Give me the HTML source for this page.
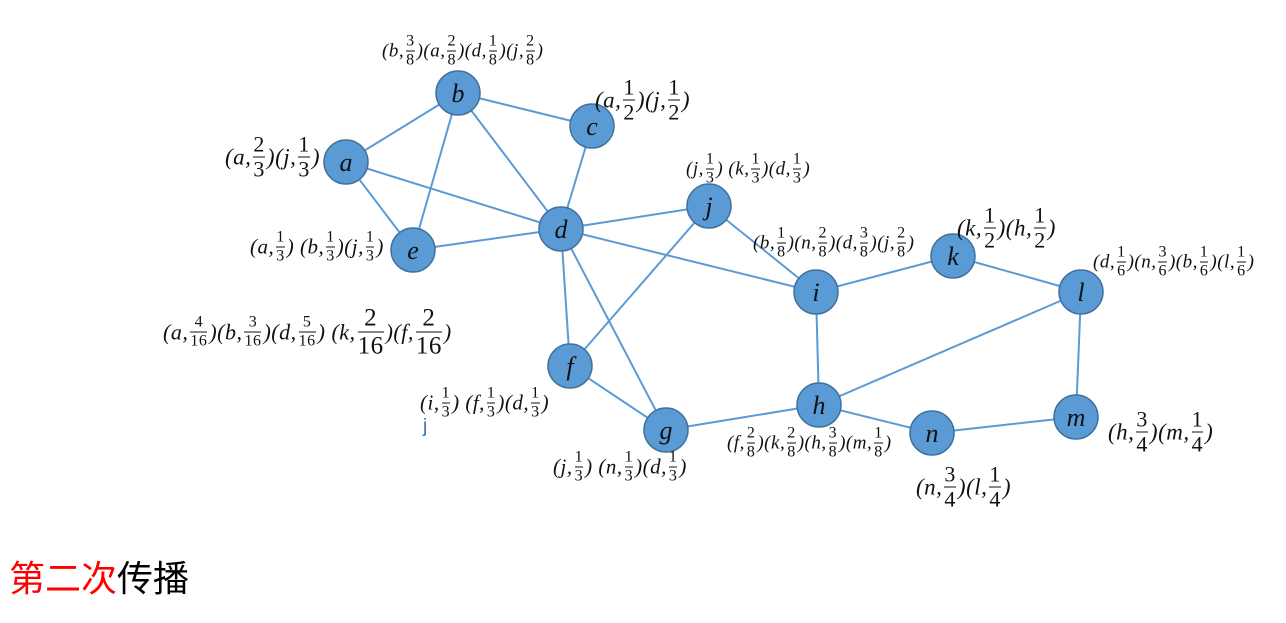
<!DOCTYPE html>
<html><head><meta charset="utf-8"><style>
body{margin:0;width:1286px;height:623px;background:#fff;position:relative;overflow:hidden;font-family:"Liberation Serif",serif}
.l{position:absolute;white-space:nowrap;font-style:italic;color:#111;display:flex;align-items:center;transform:translateY(-50%)}
.fr{display:inline-flex;flex-direction:column;align-items:center;font-style:normal;margin:0 2px;line-height:1;}
.fr span:last-child{border-top:1.5px solid #111;padding-top:1px}
.fr span:first-child{padding-bottom:1px}
.s{font-size:19px;letter-spacing:0.5px}.s .fr{font-size:16px}
.m{font-size:23px;letter-spacing:0.5px}.m .fr{font-size:22px}
</style></head><body>
<svg width="1286" height="623" style="position:absolute;left:0;top:0">
<g stroke="#5b9bd5" stroke-width="2">
<line x1="346" y1="162" x2="458" y2="93"/><line x1="346" y1="162" x2="413" y2="250"/>
<line x1="346" y1="162" x2="561" y2="229"/><line x1="458" y1="93" x2="413" y2="250"/>
<line x1="458" y1="93" x2="561" y2="229"/><line x1="458" y1="93" x2="592" y2="126"/>
<line x1="592" y1="126" x2="561" y2="229"/><line x1="561" y1="229" x2="413" y2="250"/>
<line x1="561" y1="229" x2="709" y2="206"/><line x1="561" y1="229" x2="816" y2="292"/>
<line x1="561" y1="229" x2="570" y2="366"/><line x1="561" y1="229" x2="666" y2="430"/>
<line x1="709" y1="206" x2="816" y2="292"/><line x1="709" y1="206" x2="570" y2="366"/>
<line x1="570" y1="366" x2="666" y2="430"/><line x1="666" y1="430" x2="819" y2="405"/>
<line x1="816" y1="292" x2="953" y2="256"/><line x1="816" y1="292" x2="819" y2="405"/>
<line x1="953" y1="256" x2="1081" y2="292"/><line x1="819" y1="405" x2="1081" y2="292"/>
<line x1="819" y1="405" x2="932" y2="433"/><line x1="932" y1="433" x2="1076" y2="417"/>
<line x1="1076" y1="417" x2="1081" y2="292"/>
</g>
<g fill="#5b9bd5" stroke="#41719c" stroke-width="1.5">
<circle cx="346" cy="162" r="22"/><circle cx="458" cy="93" r="22"/><circle cx="592" cy="126" r="22"/>
<circle cx="561" cy="229" r="22"/><circle cx="413" cy="250" r="22"/><circle cx="709" cy="206" r="22"/>
<circle cx="816" cy="292" r="22"/><circle cx="953" cy="256" r="22"/><circle cx="1081" cy="292" r="22"/>
<circle cx="570" cy="366" r="22"/><circle cx="666" cy="430" r="22"/><circle cx="819" cy="405" r="22"/>
<circle cx="932" cy="433" r="22"/><circle cx="1076" cy="417" r="22"/>
</g>
<g font-family="Liberation Serif,serif" font-style="italic" font-size="26" fill="#111" text-anchor="middle">
<text x="346" y="171">a</text><text x="458" y="102">b</text><text x="592" y="135">c</text>
<text x="561" y="238">d</text><text x="413" y="259">e</text><text x="709" y="215">j</text>
<text x="816" y="301">i</text><text x="953" y="265">k</text><text x="1081" y="301">l</text>
<text x="570" y="375">f</text><text x="666" y="439">g</text><text x="819" y="414">h</text>
<text x="932" y="442">n</text><text x="1076" y="426">m</text>
</g>
</svg>
<div class="l s" style="left:382px;top:51px">(b,<span class="fr"><span>3</span><span>8</span></span>)(a,<span class="fr"><span>2</span><span>8</span></span>)(d,<span class="fr"><span>1</span><span>8</span></span>)(j,<span class="fr"><span>2</span><span>8</span></span>)</div>
<div class="l m" style="left:595px;top:100px">(a,<span class="fr"><span>1</span><span>2</span></span>)(j,<span class="fr"><span>1</span><span>2</span></span>)</div>
<div class="l m" style="left:225px;top:157px">(a,<span class="fr"><span>2</span><span>3</span></span>)(j,<span class="fr"><span>1</span><span>3</span></span>)</div>
<div class="l s" style="left:686px;top:169px">(j,<span class="fr"><span>1</span><span>3</span></span>) (k,<span class="fr"><span>1</span><span>3</span></span>)(d,<span class="fr"><span>1</span><span>3</span></span>)</div>
<div class="l s" style="left:250px;top:247px;font-size:21px">(a,<span class="fr"><span>1</span><span>3</span></span>) (b,<span class="fr"><span>1</span><span>3</span></span>)(j,<span class="fr"><span>1</span><span>3</span></span>)</div>
<div class="l s" style="left:163px;top:332px;font-size:22px">(a,<span class="fr"><span>4</span><span>16</span></span>)(b,<span class="fr"><span>3</span><span>16</span></span>)(d,<span class="fr"><span>5</span><span>16</span></span>) (k,<span class="fr" style="font-size:25px"><span>2</span><span>16</span></span>)(f,<span class="fr" style="font-size:25px"><span>2</span><span>16</span></span>)</div>
<div class="l s" style="left:753px;top:243px">(b,<span class="fr"><span>1</span><span>8</span></span>)(n,<span class="fr"><span>2</span><span>8</span></span>)(d,<span class="fr"><span>3</span><span>8</span></span>)(j,<span class="fr"><span>2</span><span>8</span></span>)</div>
<div class="l m" style="left:957px;top:228px">(k,<span class="fr"><span>1</span><span>2</span></span>)(h,<span class="fr"><span>1</span><span>2</span></span>)</div>
<div class="l s" style="left:1093px;top:262px">(d,<span class="fr"><span>1</span><span>6</span></span>)(n,<span class="fr"><span>3</span><span>6</span></span>)(b,<span class="fr"><span>1</span><span>6</span></span>)(l,<span class="fr"><span>1</span><span>6</span></span>)</div>
<div class="l s" style="left:420px;top:403px;font-size:21px">(i,<span class="fr"><span>1</span><span>3</span></span>) (f,<span class="fr"><span>1</span><span>3</span></span>)(d,<span class="fr"><span>1</span><span>3</span></span>)</div>
<div style="position:absolute;left:423px;top:416px;font-family:'Liberation Sans',sans-serif;font-size:19px;color:#2e75b6">j</div>
<div class="l s" style="left:553px;top:467px;font-size:21px">(j,<span class="fr"><span>1</span><span>3</span></span>) (n,<span class="fr"><span>1</span><span>3</span></span>)(d,<span class="fr"><span>1</span><span>3</span></span>)</div>
<div class="l s" style="left:727px;top:443px">(f,<span class="fr"><span>2</span><span>8</span></span>)(k,<span class="fr"><span>2</span><span>8</span></span>)(h,<span class="fr"><span>3</span><span>8</span></span>)(m,<span class="fr"><span>1</span><span>8</span></span>)</div>
<div class="l m" style="left:1108px;top:432px">(h,<span class="fr"><span>3</span><span>4</span></span>)(m,<span class="fr"><span>1</span><span>4</span></span>)</div>
<div class="l m" style="left:916px;top:487px">(n,<span class="fr"><span>3</span><span>4</span></span>)(l,<span class="fr"><span>1</span><span>4</span></span>)</div>
<div style="position:absolute;left:9px;top:558px;font-family:'Liberation Sans','Noto Sans CJK SC',sans-serif;font-size:36px;line-height:42px"><span style="color:#f00">第二次</span><span style="color:#000">传播</span></div>
</body></html>
